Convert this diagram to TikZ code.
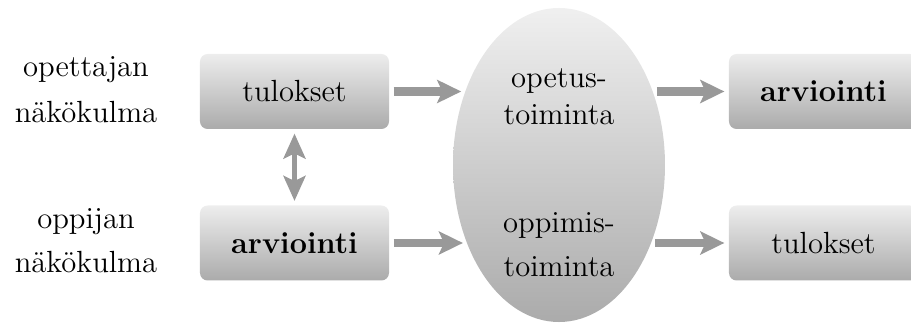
\documentclass[tikz,border=0pt]{standalone}
\usetikzlibrary{shapes.geometric,arrows.meta}
\definecolor{arrowgray}{gray}{0.6}
\begin{document}
\begin{tikzpicture}[x=0.392pt,y=-0.392pt,
  boxstyle/.style={rounded corners=3pt, top color=gray!14, bottom color=gray!66,
    minimum width=74.1pt, minimum height=29.4pt, inner sep=0pt, font=\large},
  ellstyle/.style={ellipse, top color=gray!12, bottom color=gray!66,
    minimum width=83.1pt, minimum height=123.1pt, inner sep=0pt},
  labelstyle/.style={align=center, font=\large, inner sep=0pt},
  harrow/.style={draw=arrowgray, line width=3.5pt,
    -{Stealth[length=9.4pt,width=9pt,inset=2pt]}, shorten <=1.6pt, shorten >=1.6pt},
  varrow/.style={draw=arrowgray, line width=2pt,
    {Stealth[length=9.8pt,width=8.6pt,inset=2pt]}-{Stealth[length=9.8pt,width=8.6pt,inset=2pt]},
    shorten <=1.6pt, shorten >=1.6pt}]
\useasboundingbox (0,0) rectangle (911,323);

\node[ellstyle] (ell) at (559,165) {};
\node[labelstyle] (opt) at (559,97) {opetus-\\[0.5pt]toiminta};
\node[labelstyle] (opp) at (559,245) {oppimis-\\[3.25pt]toiminta};

\node[labelstyle] (l1) at (86,90) {opettajan\\[4pt]näkökulma};
\node[labelstyle] (l2) at (86,241) {oppijan\\[3.25pt]näkökulma};

\node[boxstyle] (tul1) at (294.5,91.5) {tulokset};
\node[boxstyle] (arv1) at (294.5,243) {\bfseries arviointi};
\node[boxstyle] (arv2) at (823.5,91.5) {\bfseries arviointi};
\node[boxstyle] (tul2) at (823.5,243) {tulokset};

% points on the ellipse border level with the boxes
\coordinate (ein1) at (465.3,91.5);
\coordinate (ein2) at (467.0,243);
\coordinate (eout1) at (652.7,91.5);
\coordinate (eout2) at (651.0,243);

\draw[harrow] (tul1.east) -- (ein1);
\draw[harrow] (arv1.east) -- (ein2);
\draw[harrow] (eout1) -- (arv2.west);
\draw[harrow] (eout2) -- (tul2.west);
\draw[varrow] (tul1.south) -- (arv1.north);
\end{tikzpicture}
\end{document}
